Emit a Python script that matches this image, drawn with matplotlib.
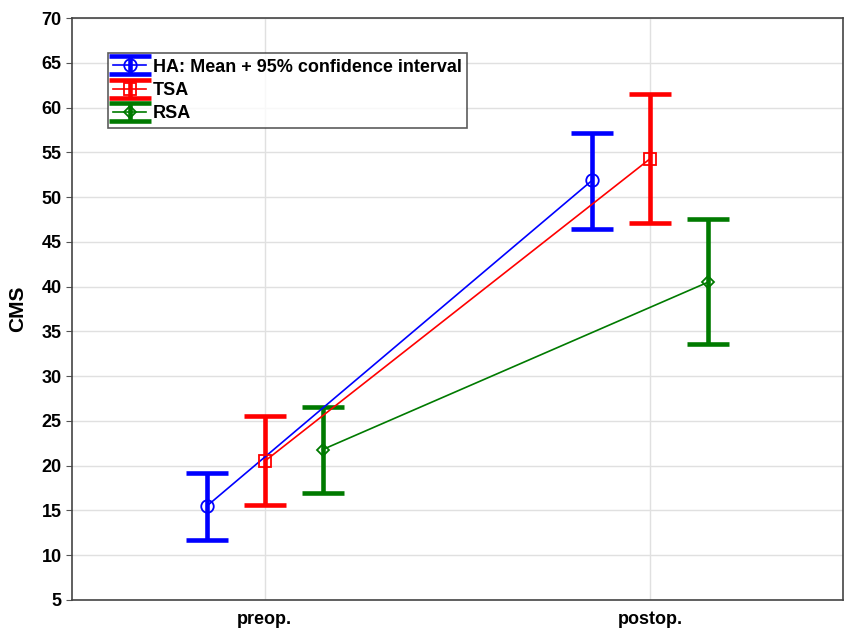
import matplotlib.pyplot as plt
import numpy as np

plt.rcParams['font.family'] = ['Liberation Sans', 'DejaVu Sans']
plt.rcParams['font.weight'] = 'bold'

categories = ['preop.', 'postop.']
groups = ['HA: Mean + 95% confidence interval', 'TSA', 'RSA']
means = {'HA': [15.5, 51.9], 'TSA': [20.5, 54.3], 'RSA': [21.8, 40.5]}
lower = {'HA': [11.7, 46.4], 'TSA': [15.6, 47.1], 'RSA': [17.0, 33.6]}
upper = {'HA': [19.2, 57.2], 'TSA': [25.5, 61.5], 'RSA': [26.6, 47.5]}

colors = {'HA': '#0000ff', 'TSA': '#ff0000', 'RSA': '#007a00'}
markers = {'HA': 'o', 'TSA': 's', 'RSA': 'D'}
msizes = {'HA': 9, 'TSA': 8, 'RSA': 6}
offsets = {'HA': -0.15, 'TSA': 0.0, 'RSA': 0.15}

fig = plt.figure(figsize=(8.46, 6.28), dpi=100)
ax = fig.add_axes([0.0851, 0.0446, 0.9114, 0.9267])

x = np.arange(len(categories))
for key, label in zip(['HA', 'TSA', 'RSA'], groups):
    m = np.array(means[key])
    yerr = [m - np.array(lower[key]), np.array(upper[key]) - m]
    line, caps, bars = ax.errorbar(x + offsets[key], m, yerr=yerr, color=colors[key], lw=1.2,
                                   marker=markers[key], ms=msizes[key], mfc='none', mec=colors[key],
                                   elinewidth=3.3, capsize=15, capthick=3.3, label=label)
    line.set_markeredgewidth(1.3)

ax.set_xlim(-0.5, 1.5)
ax.set_ylim(5, 70)
ax.set_yticks(np.arange(5, 71, 5))
ax.set_xticks(x)
ax.set_xticklabels(categories)
ax.set_ylabel('CMS', fontsize=15, fontweight='bold', labelpad=10)
ax.tick_params(axis='both', labelsize=13, length=4, color='#555555')
ax.tick_params(axis='x', length=0, pad=8)
ax.grid(True, color='#e0e0e0', linewidth=1)
ax.set_axisbelow(True)
for s in ax.spines.values():
    s.set_color('#444444')
    s.set_linewidth(1.2)

leg = ax.legend(loc='upper left', bbox_to_anchor=(0.035, 0.955), fontsize=13,
                frameon=True, fancybox=False, edgecolor='#333333', borderpad=0.3,
                labelspacing=0.35, handlelength=1.8, handletextpad=0.4)
leg.get_frame().set_linewidth(1.2)

plt.savefig('out.png', dpi=100)
